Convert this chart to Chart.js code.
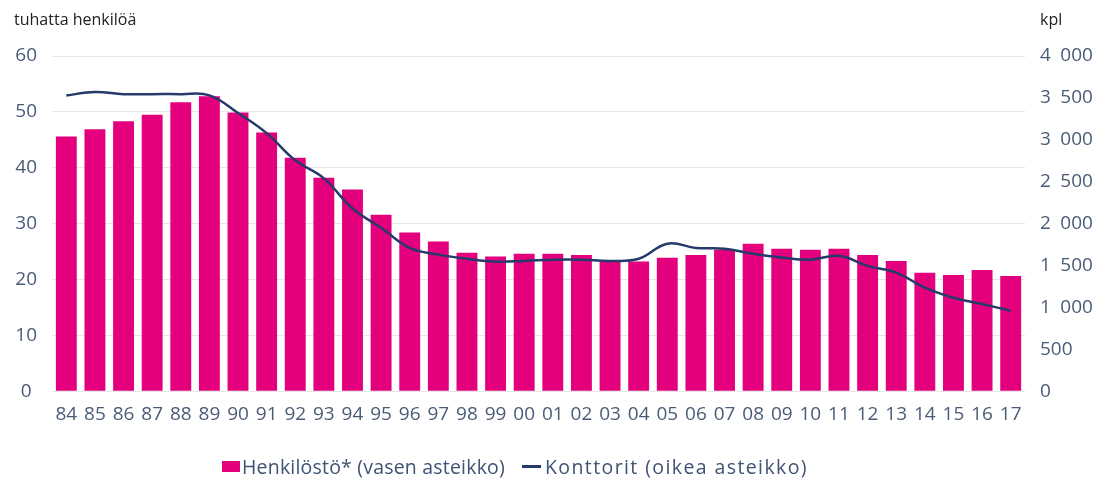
<!DOCTYPE html>
<html>
<head>
<meta charset="utf-8">
<script src="https://cdn.jsdelivr.net/npm/chart.js@4"></script>
<style>
  body { margin: 0; background: #fff; }
  .wrap { position: relative; width: 1111px; height: 481px; font-family: "Open Sans", sans-serif; }
  canvas { position: absolute; left: 0; top: 0; }
  .axis-title { position: absolute; top: 8px; font-size: 16px; color: #222; }
  .legend { position: absolute; top: 453px; display: flex; align-items: center; font-size: 19.5px; color: #3e5274; white-space: pre; }
  .legend span.box { display: inline-block; width: 18px; height: 11px; background: #e4007c; margin-right: 2px; }
  .legend span.ln { display: inline-block; width: 19px; height: 3px; background: #263a6b; margin-right: 4px; }
</style>
</head>
<body>
<div class="wrap">
  <canvas id="myChart" width="1111" height="481"></canvas>
  <div class="axis-title" style="left:14px">tuhatta henkilöä</div>
  <div class="axis-title" style="left:1040px">kpl</div>
  <div class="legend" style="left:222px; letter-spacing:0.2px"><span class="box"></span>Henkilöstö* (vasen asteikko)</div>
  <div class="legend" style="left:522px; letter-spacing:1.4px"><span class="ln"></span>Konttorit (oikea asteikko)</div>
</div>
<script>
// vuodet 1984-2017
const years = ['84', '85', '86', '87', '88', '89', '90', '91', '92', '93', '94', '95', '96', '97', '98', '99',
  '00', '01', '02', '03', '04', '05', '06', '07', '08', '09', '10', '11', '12', '13', '14', '15', '16', '17'];

// henkilöstö, tuhatta henkilöä (vasen asteikko)
const staff = [45.6, 46.9, 48.3, 49.5, 51.7, 52.8, 49.9, 46.3, 41.8, 38.2, 36.1, 31.6, 28.4, 26.8, 24.8, 24.1,
  24.6, 24.6, 24.4, 23.3, 23.2, 23.9, 24.4, 25.3, 26.4, 25.5, 25.3, 25.5, 24.4, 23.3, 21.2, 20.8, 21.7, 20.6];

// konttorit, kpl (oikea asteikko)
const offices = [3530, 3570, 3545, 3545, 3545, 3530, 3320, 3080, 2755, 2540, 2180, 1950, 1710, 1630, 1580, 1545,
  1555, 1570, 1570, 1555, 1580, 1760, 1710, 1700, 1640, 1595, 1570, 1615, 1495, 1415, 1235, 1115, 1040, 960];

const leftTicks = [0, 10, 20, 30, 40, 50, 60];
const rightTicks = [0, 500, 1000, 1500, 2000, 2500, 3000, 3500, 4000];

const tickColor = '#4a5b78';
const tickFont = { family: 'Open Sans', size: 19 };

function formatThousands(v) {
  return v.toString().replace(/\B(?=(\d{3})+(?!\d))/g, '\u2002');
}

const ctx = document.getElementById('myChart');
new Chart(ctx, {
  data: {
    labels: years,
    datasets: [
      {
        type: 'line',
        label: 'Konttorit (oikea asteikko)',
        data: offices,
        yAxisID: 'y2',
        borderColor: '#263a6b',
        borderWidth: 2.5,
        pointRadius: 0,
        tension: 0.4,
        order: 0
      },
      {
        type: 'bar',
        label: 'Henkilöstö* (vasen asteikko)',
        data: staff,
        yAxisID: 'y',
        backgroundColor: '#e4007c',
        barPercentage: 0.73,
        categoryPercentage: 1,
        order: 1
      }
    ]
  },
  options: {
    responsive: false,
    animation: false,
    layout: { padding: { top: 56, bottom: 51 } },
    plugins: { legend: { display: false }, tooltip: { enabled: false } },
    scales: {
      x: {
        grid: { display: false },
        border: { display: false },
        ticks: { color: tickColor, font: { family: 'Open Sans', size: 19 }, padding: 4, maxRotation: 0, autoSkip: false }
      },
      y: {
        position: 'left',
        min: 0,
        max: 60,
        afterBuildTicks: (scale) => { scale.ticks = leftTicks.map(v => ({ value: v })); },
        afterFit: (scale) => { scale.width = 52; },
        grid: { color: '#e6e6e6', drawTicks: false, lineWidth: 1 },
        border: { display: false },
        ticks: { color: tickColor, font: tickFont, padding: 15, crossAlign: 'center' }
      },
      y2: {
        position: 'right',
        min: 0,
        max: 4000,
        afterBuildTicks: (scale) => { scale.ticks = rightTicks.map(v => ({ value: v })); },
        afterFit: (scale) => { scale.width = 86; },
        grid: { display: false, drawTicks: false },
        border: { display: false },
        ticks: { color: tickColor, font: tickFont, padding: 15, callback: (v) => formatThousands(v) }
      }
    }
  }
});
</script>
</body>
</html>
